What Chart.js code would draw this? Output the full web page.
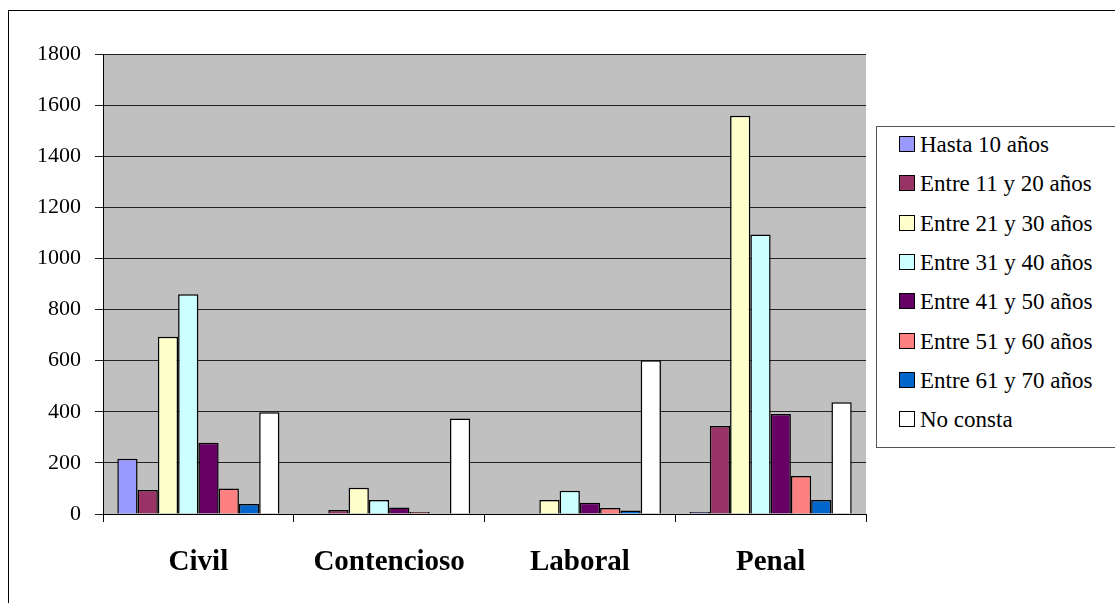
<!DOCTYPE html>
<html lang="es">
<head>
    <meta charset="UTF-8">
    <title>Distribución por edad</title>
    <script src="https://cdn.jsdelivr.net/npm/chart.js"></script>
    <style>
        body {
            margin: 0;
            background: #ffffff;
            overflow: hidden;
        }
        .frame {
            position: absolute;
            left: 8px;
            top: 10px;
            width: 1200px;
            height: 700px;
            border: 1px solid #000;
        }
        .chart-box {
            position: absolute;
            left: 0;
            top: 0;
            width: 1115px;
            height: 603px;
        }
        .legend {
            position: absolute;
            left: 876px;
            top: 126px;
            width: 260px;
            height: 320px;
            border: 1px solid #555;
            background: #fff;
            font-family: "Liberation Serif", serif;
            font-size: 23px;
            color: #000;
        }
        .legend-item {
            position: absolute;
            left: 22px;
            white-space: pre;
            line-height: 24px;
        }
        .legend-item span {
            display: inline-block;
            width: 14px;
            height: 14px;
            border: 1.5px solid #000;
            margin-right: 5px;
            vertical-align: 0px;
        }
    </style>
</head>
<body>
    <div class="frame"></div>
    <div class="chart-box"><canvas id="chart" width="1115" height="603"></canvas></div>
    <div class="legend" id="legend"></div>

    <script>
        // Datos
        const categories = ['Civil', 'Contencioso', 'Laboral', 'Penal'];
        const seriesNames = ['Hasta 10 años', 'Entre 11 y 20 años', 'Entre 21 y 30 años', 'Entre 31 y 40 años',
                             'Entre 41 y 50 años', 'Entre 51 y 60 años', 'Entre 61 y 70 años', 'No consta'];
        const hasta10   = [216, 0, 0, 8];
        const entre11   = [94, 16, 0, 344];
        const entre21   = [694, 103, 55, 1558];
        const entre31   = [860, 55, 91, 1094];
        const entre41   = [279, 25, 44, 391];
        const entre51   = [100, 8, 23, 149];
        const entre61   = [39, 0, 14, 55];
        const noConsta  = [398, 374, 602, 437];
        const yTicks    = [0, 200, 400, 600, 800, 1000, 1200, 1400, 1600, 1800];
        const colors = ['#9999FF', '#993366', '#FFFFCC', '#CCFFFF', '#660066', '#FF8080', '#0066CC', '#FFFFFF'];

        const seriesValues = [hasta10, entre11, entre21, entre31, entre41, entre51, entre61, noConsta];

        // fondo gris del área de trazado
        const plotBackground = {
            id: 'plotBackground',
            beforeDraw(chart) {
                const { ctx, chartArea } = chart;
                ctx.save();
                ctx.fillStyle = '#C0C0C0';
                ctx.fillRect(chartArea.left, chartArea.top, chartArea.right - chartArea.left, chartArea.bottom - chartArea.top);
                ctx.restore();
            }
        };

        const datasets = seriesNames.map((name, i) => ({
            label: name,
            data: seriesValues[i],
            backgroundColor: colors[i],
            borderColor: '#000000',
            borderWidth: 1.5,
            categoryPercentage: 0.85,
            barPercentage: 1.0
        }));

        new Chart(document.getElementById('chart'), {
            type: 'bar',
            data: { labels: categories, datasets: datasets },
            plugins: [plotBackground],
            options: {
                responsive: false,
                animation: false,
                layout: { padding: { left: 0, top: 54, right: 249, bottom: 29 } },
                plugins: {
                    legend: { display: false },
                    tooltip: { enabled: false }
                },
                scales: {
                    x: {
                        afterFit: scale => { scale.height = 60; },
                        grid: {
                            offset: true,
                            drawOnChartArea: false,
                            color: '#000',
                            tickLength: 8
                        },
                        border: { color: '#000', width: 1 },
                        ticks: {
                            color: '#000',
                            padding: 23,
                            font: { family: 'Liberation Serif', size: 29, weight: 'bold' }
                        }
                    },
                    y: {
                        min: 0,
                        max: 1800,
                        afterFit: scale => { scale.width = 103; },
                        afterBuildTicks: scale => { scale.ticks = yTicks.map(v => ({ value: v })); },
                        grid: {
                            color: '#222',
                            lineWidth: 1,
                            tickLength: 8
                        },
                        border: { color: '#000', width: 1 },
                        ticks: {
                            color: '#000',
                            padding: 14,
                            callback: v => String(v),
                            font: { family: 'Liberation Serif', size: 22 }
                        }
                    }
                }
            }
        });

        // leyenda en HTML, construida desde los mismos arrays
        const legend = document.getElementById('legend');
        seriesNames.forEach((name, i) => {
            const item = document.createElement('div');
            item.className = 'legend-item';
            item.style.top = (6 + i * 39.3) + 'px';
            item.innerHTML = '<span style="background:' + colors[i] + '"></span>' + name;
            legend.appendChild(item);
        });
    </script>
</body>
</html>
